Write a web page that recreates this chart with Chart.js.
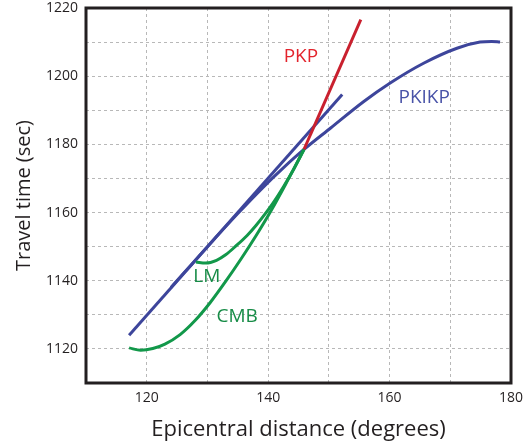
<!DOCTYPE html>
<html>
<head>
<meta charset="utf-8">
<script src="https://cdn.jsdelivr.net/npm/chart.js@4"></script>
<style>
  html, body { margin: 0; padding: 0; background: #fff; }
  #wrap { width: 523px; height: 446px; }
</style>
</head>
<body>
<div id="wrap"><canvas id="chart" width="523" height="446"></canvas></div>
<script>
// travel time curves, epicentral distance (deg) vs time (s)
const pkikpLineX = [117.1, 152.2];
const pkikpLineY = [1124.0, 1194.6];

const pkikpX = [124, 130, 135, 139, 142.5, 145.9, 150.3, 155.7, 160.1, 165.6, 171.1, 174.9, 176.8, 178.2];
const pkikpY = [1138.0, 1150.0, 1159.7, 1167.1, 1173.1, 1178.5, 1184.8, 1192.5, 1198.0, 1203.8, 1208.2, 1210.0, 1210.2, 1210.0];

const pkpX = [145.9, 155.26];
const pkpY = [1178.5, 1216.6];

const lmX = [128.1, 129.7, 131.5, 133, 134.7, 136.5, 138, 139.5, 141, 142.6, 144.3, 145.9];
const lmY = [1145.5, 1145.2, 1146.0, 1147.6, 1150.2, 1153.2, 1156.2, 1159.6, 1163.3, 1167.8, 1173.0, 1178.5];

const cmbX = [117.1, 119, 121, 123, 125.5, 128, 130.5, 133, 135.5, 138, 140.5, 143, 145.9];
const cmbY = [1120.3, 1119.6, 1120.1, 1121.4, 1124.2, 1128.4, 1133.7, 1139.8, 1146.3, 1153.2, 1160.6, 1168.7, 1178.5];

// curve names and where they sit (data units)
const labelText = ['PKP', 'PKIKP', 'LM', 'CMB'];
const labelX = [145.4, 165.7, 129.9, 134.9];
const labelY = [1205.7, 1193.8, 1141.2, 1129.6];

const xTicks = [120, 140, 160, 180];
const yTicks = [1120, 1140, 1160, 1180, 1200, 1220];

const BLUE = '#3d459b';
const RED = '#c9202e';
const GREEN = '#12984a';
const INK = '#231f20';
const labelColors = ['#e3232c', '#4953a8', '#178c47', '#178c47'];

function pts(xs, ys) {
  return xs.map((x, i) => ({ x, y: ys[i] }));
}

function curve(data, color) {
  return {
    data,
    showLine: true,
    borderColor: color,
    backgroundColor: color,
    borderWidth: 3,
    pointRadius: 0,
    cubicInterpolationMode: 'monotone',
    fill: false
  };
}

const decor = {
  id: 'decor',
  afterDatasetsDraw(chart) {
    const { ctx, scales: { x, y } } = chart;
    ctx.save();
    ctx.font = '19px "Open Sans"';
    ctx.textAlign = 'center';
    ctx.textBaseline = 'middle';
    labelText.forEach((t, i) => {
      ctx.fillStyle = labelColors[i];
      ctx.fillText(t, x.getPixelForValue(labelX[i]), y.getPixelForValue(labelY[i]));
    });
    ctx.restore();
  },
  afterDraw(chart) {
    const { ctx, chartArea: a } = chart;
    ctx.save();
    ctx.strokeStyle = INK;
    ctx.lineWidth = 3;
    ctx.strokeRect(a.left, a.top, a.right - a.left, a.bottom - a.top);
    ctx.restore();
  }
};

const ctx = document.getElementById('chart').getContext('2d');
new Chart(ctx, {
  type: 'scatter',
  data: {
    datasets: [
      curve(pts(lmX, lmY), GREEN),
      curve(pts(cmbX, cmbY), GREEN),
      curve(pts(pkpX, pkpY), RED),
      curve(pts(pkikpLineX, pkikpLineY), BLUE),
      curve(pts(pkikpX, pkikpY), BLUE)
    ]
  },
  options: {
    responsive: false,
    animation: false,
    layout: { padding: { left: 0, right: 12, top: 8, bottom: 0 } },
    plugins: { legend: { display: false }, tooltip: { enabled: false } },
    scales: {
      x: {
        type: 'linear',
        min: 110,
        max: 180,
        afterFit: s => { s.height = 63; s.paddingLeft = 0; s.paddingRight = 0; },
        border: { display: false, dash: [3, 3] },
        grid: { color: '#b8b8b8', lineWidth: 1, drawTicks: false },
        ticks: {
          stepSize: 10,
          padding: 7,
          color: INK,
          font: { family: 'Open Sans', size: 14 },
          maxRotation: 0,
          autoSkip: false,
          callback: v => xTicks.includes(v) ? String(v) : ''
        },
        title: {
          display: true,
          text: 'Epicentral distance (degrees)',
          color: INK,
          font: { family: 'Open Sans', size: 22 },
          padding: { top: 0, bottom: 3 }
        }
      },
      y: {
        type: 'linear',
        min: 1110,
        max: 1220,
        afterFit: s => { s.width = 86; s.paddingTop = 0; s.paddingBottom = 0; },
        border: { display: false, dash: [3, 3] },
        grid: { color: '#b8b8b8', lineWidth: 1, drawTicks: false },
        ticks: {
          stepSize: 10,
          padding: 8,
          color: INK,
          font: { family: 'Open Sans', size: 14 },
          autoSkip: false,
          callback: v => yTicks.includes(v) ? String(v) : ''
        },
        title: {
          display: true,
          text: 'Travel time (sec)',
          color: INK,
          font: { family: 'Open Sans', size: 20 },
          padding: { top: 12, bottom: 0 }
        }
      }
    }
  },
  plugins: [decor]
});
</script>
</body>
</html>
